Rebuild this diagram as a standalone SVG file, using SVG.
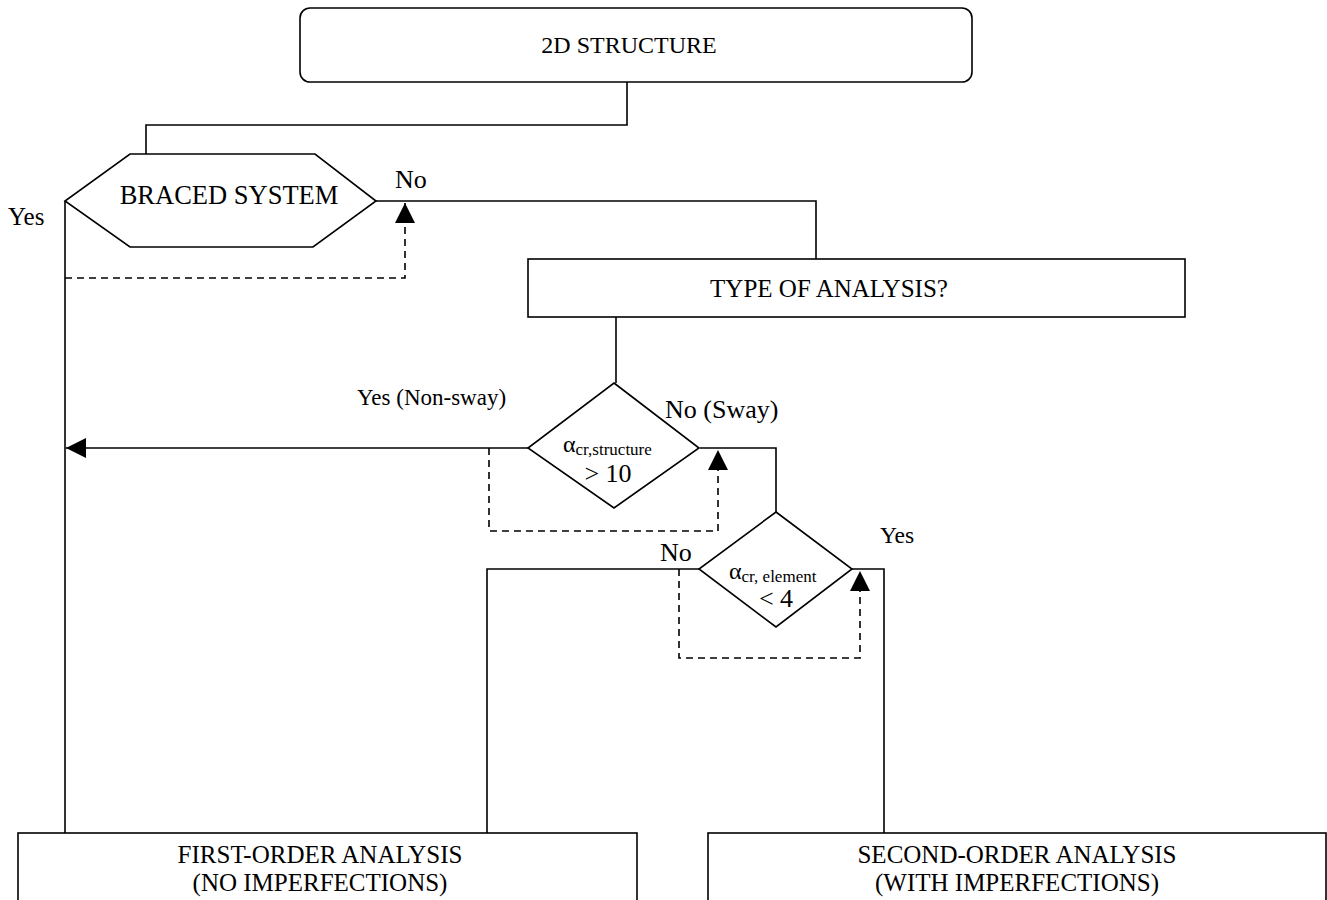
<svg xmlns="http://www.w3.org/2000/svg" width="1327" height="900" viewBox="0 0 1327 900">
<style>
.s{fill:#fff;stroke:#000;stroke-width:1.6}
.c{fill:none;stroke:#000;stroke-width:1.6}
.d{fill:none;stroke:#000;stroke-width:1.6;stroke-dasharray:7 5}
text{font-family:"Liberation Serif","Times New Roman",serif;fill:#000;font-size:25px}
.m{text-anchor:middle}
.sub{font-size:17px}
.al{font-size:24px}
.op{font-size:26px}
</style>
<defs>
<marker id="au" viewBox="0 0 20 20" refX="20" refY="10" markerWidth="20" markerHeight="20" markerUnits="userSpaceOnUse" orient="auto">
<path d="M0,0 L20,10 L0,20 Z" fill="#000"/>
</marker>
</defs>
<g id="connectors">
<polyline class="c" points="627,82 627,125 146,125 146,154"/>
<line class="c" x1="65" y1="201" x2="65" y2="833"/>
<polyline class="c" points="376,201 816,201 816,259"/>
<polyline class="d" points="65,278 405,278 405,203" marker-end="url(#au)"/>
<line class="c" x1="616" y1="317" x2="616" y2="383"/>
<line class="c" x1="528" y1="448" x2="66" y2="448" marker-end="url(#au)"/>
<polyline class="d" points="489,448 489,531 718,531 718,450" marker-end="url(#au)"/>
<polyline class="c" points="700,448 776,448 776,512"/>
<polyline class="c" points="699,569 487,569 487,833"/>
<polyline class="d" points="679,569 679,658 860,658 860,571" marker-end="url(#au)"/>
<polyline class="c" points="852,569 884,569 884,833"/>
</g>
<g id="n_2d">
<rect class="s" x="300" y="8" width="672" height="74" rx="10"/>
<text class="m" x="629" y="53" style="font-size:24px">2D STRUCTURE</text>
</g>
<g id="n_braced">
<polygon class="s" points="130,154 315,154 376,201 313,247 130,247 65,201"/>
<text class="m" x="229" y="204" style="font-size:26.5px">BRACED SYSTEM</text>
</g>
<g id="n_type">
<rect class="s" x="528" y="259" width="657" height="58"/>
<text class="m" x="829" y="297">TYPE OF ANALYSIS?</text>
</g>
<g id="n_d1">
<polygon class="s" points="614,383 699,448 614,508 528,448"/>
<text class="al" x="563" y="452">α<tspan class="sub" dy="3">cr,structure</tspan></text>
<text class="m op" x="608" y="482">&gt; 10</text>
</g>
<g id="n_d2">
<polygon class="s" points="776,512 852,569 776,627 699,569"/>
<text class="al" x="729" y="579">α<tspan class="sub" dy="3">cr, element</tspan></text>
<text class="m op" x="776" y="607">&lt; 4</text>
</g>
<g id="n_first">
<rect class="s" x="18" y="833" width="619" height="80"/>
<text class="m" x="320" y="863">FIRST-ORDER ANALYSIS</text>
<text class="m" x="320" y="891">(NO IMPERFECTIONS)</text>
</g>
<g id="n_second">
<rect class="s" x="708" y="833" width="618" height="80"/>
<text class="m" x="1017" y="863">SECOND-ORDER ANALYSIS</text>
<text class="m" x="1017" y="891">(WITH IMPERFECTIONS)</text>
</g>
<g id="labels">
<text x="8" y="225">Yes</text>
<text x="395" y="188" style="font-size:26px">No</text>
<text x="357" y="405" style="font-size:23px">Yes (Non-sway)</text>
<text x="665" y="418" style="font-size:26px">No (Sway)</text>
<text x="880" y="543" style="font-size:23.5px">Yes</text>
<text x="660" y="561" style="font-size:26px">No</text>
</g>
</svg>
